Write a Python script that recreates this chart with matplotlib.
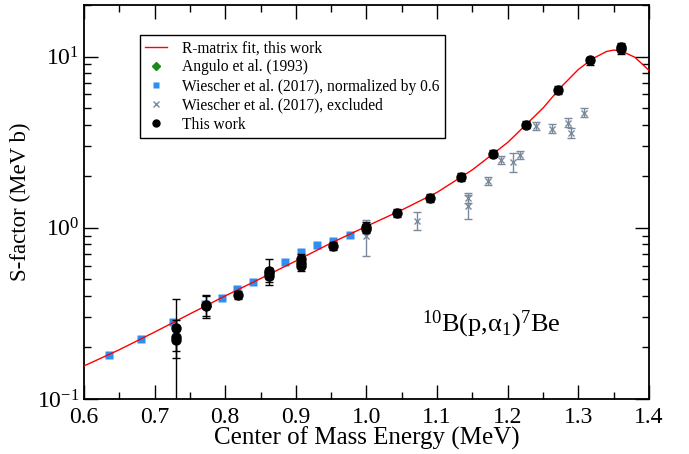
import numpy as np
import matplotlib
matplotlib.use("Agg")
import matplotlib.pyplot as plt
from matplotlib.ticker import LogLocator, MultipleLocator, NullFormatter

plt.rcParams['font.family'] = ['Liberation Serif', 'DejaVu Serif']
plt.rcParams['mathtext.fontset'] = 'custom'
plt.rcParams['mathtext.rm'] = 'Liberation Serif'
plt.rcParams['mathtext.it'] = 'Liberation Serif:italic'
plt.rcParams['mathtext.bf'] = 'Liberation Serif:bold'
plt.rcParams['axes.unicode_minus'] = False

# R-matrix fit curve
fit_x = [0.60, 0.65, 0.70, 0.75, 0.80, 0.85, 0.90, 0.95, 1.00, 1.05, 1.10, 1.15,
         1.20, 1.25, 1.275, 1.30, 1.32, 1.34, 1.35, 1.36, 1.38, 1.40]
fit_y = [0.156, 0.194, 0.246, 0.314, 0.400, 0.505, 0.640, 0.815, 1.02, 1.27, 1.61, 2.18,
         3.15, 5.0, 6.6, 8.4, 9.7, 10.7, 10.9, 10.8, 9.9, 8.3]

# Angulo et al. (1993): no points visible in the plotted range
angulo_x = []
angulo_y = []

# Wiescher et al. (2017), normalized by 0.6
wn_x = [0.635, 0.681, 0.726, 0.771, 0.795, 0.817, 0.839, 0.885, 0.907, 0.930, 0.953, 0.977]
wn_y = [0.181, 0.224, 0.282, 0.359, 0.390, 0.440, 0.483, 0.633, 0.724, 0.796, 0.839, 0.910]

# Wiescher et al. (2017), excluded
we_x = [0.999, 1.072, 1.144, 1.144, 1.172, 1.190, 1.207, 1.217, 1.240, 1.263, 1.285, 1.290, 1.308]
we_y = [0.898, 1.10, 1.50, 1.34, 1.88, 2.50, 2.43, 2.67, 3.95, 3.79, 4.11, 3.59, 4.71]
we_err = [0.21, 0.13, 0.10, 0.21, 0.10, 0.13, 0.31, 0.15, 0.22, 0.22, 0.25, 0.25, 0.28]

# This work
tw_x = [0.730, 0.730, 0.730, 0.773, 0.773, 0.818, 0.862, 0.862, 0.862, 0.907, 0.907, 0.907,
        0.953, 0.999, 0.999, 1.043, 1.090, 1.134, 1.179, 1.226, 1.271, 1.316, 1.360, 1.360]
tw_y = [0.261, 0.229, 0.221, 0.355, 0.347, 0.406, 0.561, 0.545, 0.524, 0.659, 0.624, 0.599,
        0.785, 1.014, 0.99, 1.22, 1.50, 1.99, 2.71, 4.0, 6.41, 9.48, 11.4, 11.0]
tw_err_lo = [0.088, 0.20, 0.03, 0.05, 0.05, 0.02, 0.10, 0.04, 0.04, 0.04, 0.04, 0.04,
             0.045, 0.06, 0.06, 0.07, 0.08, 0.11, 0.13, 0.2, 0.35, 0.5, 0.6, 0.6]
tw_err_hi = [0.03, 0.156, 0.03, 0.05, 0.05, 0.02, 0.10, 0.04, 0.04, 0.04, 0.04, 0.04,
             0.045, 0.06, 0.06, 0.07, 0.08, 0.11, 0.13, 0.2, 0.35, 0.5, 0.6, 0.6]

fig = plt.figure(figsize=(6.89, 4.54), dpi=100)
ax = fig.add_axes([0.1219, 0.1211, 0.82, 0.868])

grey = '#7a8a9c'
blue = '#2f8ff0'

ax.errorbar(we_x, we_y, yerr=we_err, fmt='x', color=grey, ms=5, mew=1.0,
            elinewidth=1.0, capsize=3, capthick=1.0, zorder=2)
ax.plot(wn_x, wn_y, 's', color=blue, ms=5.5, mec='none', zorder=3)
ax.plot(angulo_x, angulo_y, 'D', color='#1a8a1a', ms=4, zorder=3)
ax.plot(fit_x, fit_y, '-', color='red', lw=1.0, zorder=4)
ax.errorbar(tw_x, tw_y, yerr=[tw_err_lo, tw_err_hi], fmt='o', color='black', ms=6.5,
            elinewidth=1.0, capsize=3, capthick=1.0, zorder=5)

ax.set_xscale('linear')
ax.set_yscale('log')
ax.set_xlim(0.6, 1.4)
ax.set_ylim(0.1, 20)
ax.xaxis.set_major_locator(MultipleLocator(0.1))
ax.xaxis.set_minor_locator(MultipleLocator(0.05))
ax.yaxis.set_major_locator(LogLocator(base=10))
ax.yaxis.set_minor_locator(LogLocator(base=10, subs=np.arange(2, 10)))
ax.yaxis.set_minor_formatter(NullFormatter())
ax.tick_params(which='both', direction='in', top=True, right=True, labelsize=17, width=1.0)
ax.tick_params(which='major', length=10)
ax.tick_params(which='minor', length=5)
ax.tick_params(axis='x', pad=6)
for s in ax.spines.values():
    s.set_linewidth(1.3)

ax.set_xlabel('Center of Mass Energy (MeV)', fontsize=18, labelpad=-1)
ax.set_ylabel('S-factor (MeV b)', fontsize=16.5, labelpad=4)

ax.text(0.72, 0.19, r'$^{10}$B(p,α$_1$)$^7$Be', transform=ax.transAxes,
        fontsize=19, ha='center', va='center')

h_fit, = ax.plot([], [], '-', color='red', lw=1.0)
h_ang, = ax.plot([], [], 'D', color='#1a8a1a', ms=4)
h_wn, = ax.plot([], [], 's', color=blue, ms=5, mec='none')
h_we, = ax.plot([], [], 'x', color=grey, ms=5)
h_tw, = ax.plot([], [], 'o', color='black', ms=5)
leg = ax.legend([h_fit, h_ang, h_wn, h_we, h_tw],
                ['R-matrix fit, this work', 'Angulo et al. (1993)',
                 'Wiescher et al. (2017), normalized by 0.6',
                 'Wiescher et al. (2017), excluded', 'This work'],
                loc='upper left', bbox_to_anchor=(0.099, 0.924), borderaxespad=0,
                fontsize=11.2, frameon=True, fancybox=False, edgecolor='black',
                framealpha=1, labelspacing=0.2, handlelength=1.4, borderpad=0.35,
                handletextpad=0.95)
leg.get_frame().set_linewidth(1.0)

fig.savefig('out.png', dpi=100)
